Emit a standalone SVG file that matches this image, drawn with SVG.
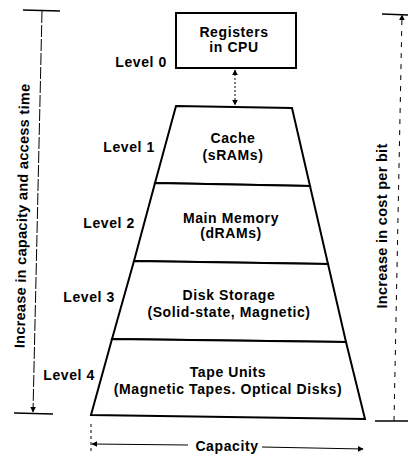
<svg xmlns="http://www.w3.org/2000/svg" width="408" height="457" viewBox="0 0 408 457">
  <defs>
    <marker id="head" viewBox="0 0 10 10" refX="9" refY="5" markerWidth="6" markerHeight="7" orient="auto-start-reverse" markerUnits="userSpaceOnUse">
      <path d="M0,0 L10,5 L0,10 z" fill="#000"/>
    </marker>
    <style>
      .box { fill: #fff; stroke: #000; stroke-width: 2; stroke-linejoin: miter; }
      .t { font-family: "Liberation Sans", Arial, sans-serif; font-weight: bold; font-size: 14px; letter-spacing: 0.6px; fill: #000; text-anchor: middle; }
      .lvl { font-family: "Liberation Sans", Arial, sans-serif; font-weight: bold; font-size: 14px; letter-spacing: 0.6px; fill: #000; text-anchor: end; }
      .side { font-family: "Liberation Sans", Arial, sans-serif; font-weight: bold; font-size: 14.5px; letter-spacing: 0.3px; fill: #000; text-anchor: middle; }
      .rule { stroke: #000; stroke-width: 1.6; fill: none; }
      .thin { stroke: #000; stroke-width: 1; fill: none; }
    </style>
  </defs>
  <rect width="408" height="457" fill="#fff"/>

  <!-- memory levels -->
  <g id="level0">
    <rect class="box" x="176" y="13" width="120" height="55"/>
    <text class="t" x="234" y="37">Registers</text>
    <text class="t" x="234" y="52">in CPU</text>
    <text class="lvl" x="167" y="67">Level 0</text>
  </g>
  <g id="level1">
    <polygon class="box" points="176,106 292,108 310,186 155,183"/>
    <text class="t" x="233" y="143">Cache</text>
    <text class="t" x="233" y="160">(sRAMs)</text>
    <text class="lvl" x="155" y="152">Level 1</text>
  </g>
  <g id="level2">
    <polygon class="box" points="155,183 310,186 328,264 134,261"/>
    <text class="t" x="231" y="223">Main Memory</text>
    <text class="t" x="231" y="238">(dRAMs)</text>
    <text class="lvl" x="135" y="228">Level 2</text>
  </g>
  <g id="level3">
    <polygon class="box" points="134,261 328,264 346,342 112,339"/>
    <text class="t" x="229" y="300">Disk Storage</text>
    <text class="t" x="229" y="317">(Solid-state, Magnetic)</text>
    <text class="lvl" x="115" y="302">Level 3</text>
  </g>
  <g id="level4">
    <polygon class="box" points="112,339 346,342 365,419 91,415"/>
    <text class="t" x="228" y="377">Tape Units</text>
    <text class="t" x="228" y="394">(Magnetic Tapes. Optical Disks)</text>
    <text class="lvl" x="95" y="380">Level 4</text>
  </g>

  <!-- connectors and dimension arrows -->
  <g id="connectors">
    <line class="thin" x1="235" y1="70" x2="235" y2="105" stroke-dasharray="2 2" marker-start="url(#head)" marker-end="url(#head)"/>

    <!-- left: capacity and access time -->
    <line class="rule" x1="23" y1="10" x2="60" y2="11"/>
    <line class="thin" x1="42" y1="11" x2="33" y2="412" stroke-dasharray="12 2" marker-end="url(#head)"/>
    <line class="rule" x1="14" y1="413" x2="53" y2="414"/>

    <!-- right: cost per bit -->
    <line class="rule" x1="382" y1="14" x2="408" y2="15"/>
    <line class="thin" x1="394" y1="421" x2="402" y2="15" stroke-dasharray="5 6" marker-end="url(#head)"/>
    <line class="rule" x1="375" y1="421" x2="408" y2="421"/>

    <!-- bottom: capacity -->
    <line class="thin" x1="91" y1="424" x2="91" y2="452" stroke-dasharray="3 3"/>
    <line class="thin" x1="188" y1="445" x2="92" y2="444" marker-end="url(#head)"/>
    <line class="thin" x1="262" y1="447" x2="363" y2="449" marker-end="url(#head)"/>
  </g>

  <!-- axis captions -->
  <text class="side" transform="translate(27,216) rotate(-88.9)">Increase in capacity and access time</text>
  <text class="side" transform="translate(387,226) rotate(-90)">Increase in cost per bit</text>
  <text class="t" x="227" y="451">Capacity</text>
</svg>
